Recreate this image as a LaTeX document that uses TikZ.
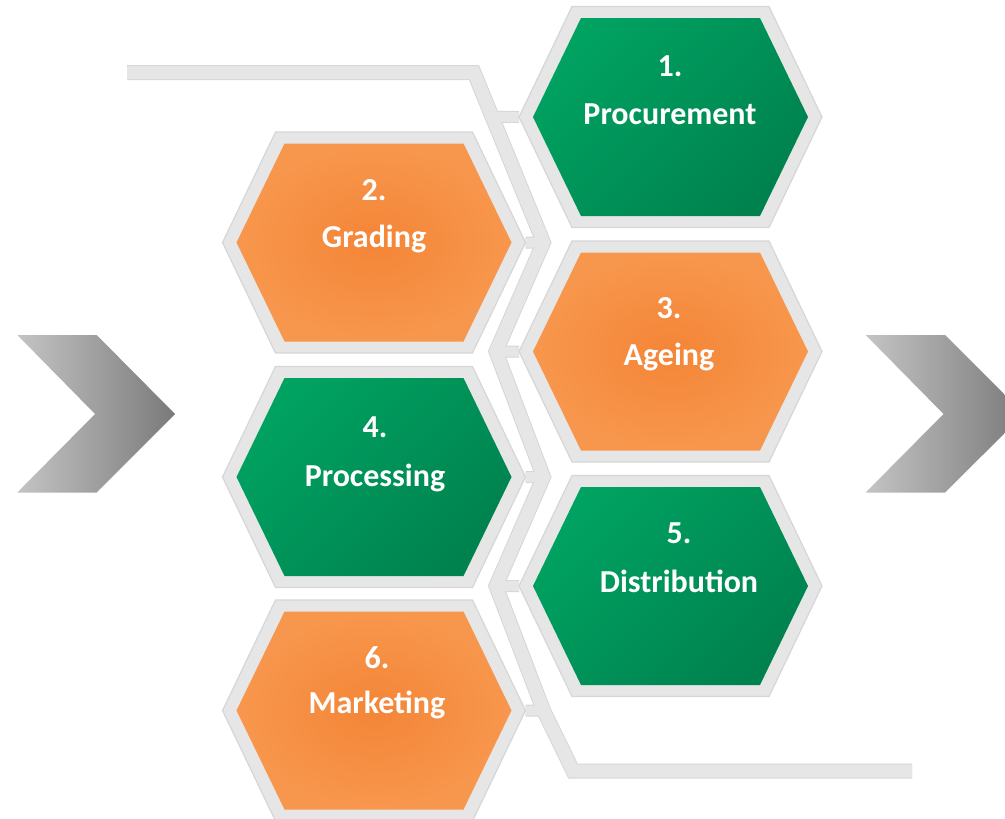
\documentclass[tikz,border=0pt]{standalone}
\usepackage{fontspec}
\setmainfont{Carlito}
\usetikzlibrary{calc}
\definecolor{bandfill}{HTML}{E6E6E6}
\definecolor{bandedge}{HTML}{D6D6D6}
\definecolor{greenA}{HTML}{00A262}
\definecolor{greenB}{HTML}{00824E}
\definecolor{orangeA}{HTML}{F48537}
\definecolor{orangeB}{HTML}{F7974D}
\definecolor{chevA}{HTML}{C4C4C4}
\definecolor{chevB}{HTML}{7A7A7A}
\newcommand\hexcell[2]{%
  \path[hexouter] ($(#1)+(-151.5,0)$) -- ($(#1)+(-98.5,-110.5)$) -- ($(#1)+(98.5,-110.5)$)
    -- ($(#1)+(151.5,0)$) -- ($(#1)+(98.5,110.5)$) -- ($(#1)+(-98.5,110.5)$) -- cycle;
  \path[#2] ($(#1)+(-137.5,0)$) -- ($(#1)+(-89.5,-99)$) -- ($(#1)+(89.5,-99)$)
    -- ($(#1)+(137.5,0)$) -- ($(#1)+(89.5,99)$) -- ($(#1)+(-89.5,99)$) -- cycle;
}
\begin{document}
\begin{tikzpicture}[x=1pt,y=-1pt,
  hexouter/.style={fill=bandfill, draw=bandedge, line width=1.2pt, line join=miter},
  greenhex/.style={top color=greenA, bottom color=greenB, shading angle=45},
  orangehex/.style={inner color=orangeA, outer color=orangeB},
  lbl/.style={text=white, font=\fontsize{32}{38}\selectfont\bfseries, inner sep=0pt, anchor=base},
  bandline/.style={line join=miter, line cap=butt},
  chev/.style={left color=chevA, right color=chevB}]
\useasboundingbox (0,0) rectangle (1005,819);
% hexagon centres
\coordinate (h1) at (670.5,117);
\coordinate (h2) at (374,242.5);
\coordinate (h3) at (670.5,351.5);
\coordinate (h4) at (374,477);
\coordinate (h5) at (670.5,586);
\coordinate (h6) at (374,710.5);
\foreach \n in {1,3,5} {\coordinate (h\n w) at ($(h\n)+(-151.5,0)$);}
\foreach \n in {2,4,6} {\coordinate (h\n e) at ($(h\n)+(151.5,0)$);}
% band vertices
\coordinate (bs) at (127,72.5);
\coordinate (b0) at (474,72.5);
\coordinate (b1) at (543.5,242.5);
\coordinate (b2) at (496,351.5);
\coordinate (b3) at (543.5,477);
\coordinate (b4) at (496,586);
\coordinate (b5) at (543.5,710.5);
\coordinate (b6) at (573,771);
\coordinate (be) at (912,771);
\coordinate (bt) at ($(b0)!0.2617!(b1)$);
% band and stubs: edges then fills
\draw[bandline, draw=bandedge, line width=12pt] (h1w) -- (bt) (h2e) -- (b1) (h3w) -- (b2)
  (h4e) -- (b3) (h5w) -- (b4) (h6e) -- (b5);
\draw[bandline, draw=bandedge, line width=15pt] (bs) -- (b0) -- (b1) -- (b2) -- (b3) -- (b4) -- (b5) -- (b6) -- (be);
\draw[bandline, draw=bandfill, line width=10pt] (h1w) -- (bt) (h2e) -- (b1) (h3w) -- (b2)
  (h4e) -- (b3) (h5w) -- (b4) (h6e) -- (b5);
\draw[bandline, draw=bandfill, line width=13pt] (bs) -- (b0) -- (b1) -- (b2) -- (b3) -- (b4) -- (b5) -- (b6) -- (be);
% hexagons
\hexcell{h1}{greenhex}
\hexcell{h2}{orangehex}
\hexcell{h3}{orangehex}
\hexcell{h4}{greenhex}
\hexcell{h5}{greenhex}
\hexcell{h6}{orangehex}
% texts
\node[lbl] (n1) at (670,76) {1.};
\node[lbl] (l1) at (670,124) {Procurement};
\node[lbl] (n2) at (374,200) {2.};
\node[lbl] (l2) at (374,247) {Grading};
\node[lbl] (n3) at (669,318) {3.};
\node[lbl] (l3) at (669,365) {Ageing};
\node[lbl] (n4) at (375,437) {4.};
\node[lbl] (l4) at (375,486) {Processing};
\node[lbl] (n5) at (679,543) {5.};
\node[lbl] (l5) at (679,592) {Distribution};
\node[lbl] (n6) at (377,668) {6.};
\node[lbl] (l6) at (377,713) {Marketing};
% chevrons
\path[chev] (17.3,335) -- (96.7,335) -- (175,414) -- (96.7,492.5) -- (17.3,492.5) -- (95,414) -- cycle;
\begin{scope}
\clip (0,0) rectangle (1005,819);
\path[chev] (865.7,335) -- (945,335) -- (1024,414) -- (945,492.5) -- (865.7,492.5) -- (943.5,414) -- cycle;
\end{scope}
\end{tikzpicture}
\end{document}
